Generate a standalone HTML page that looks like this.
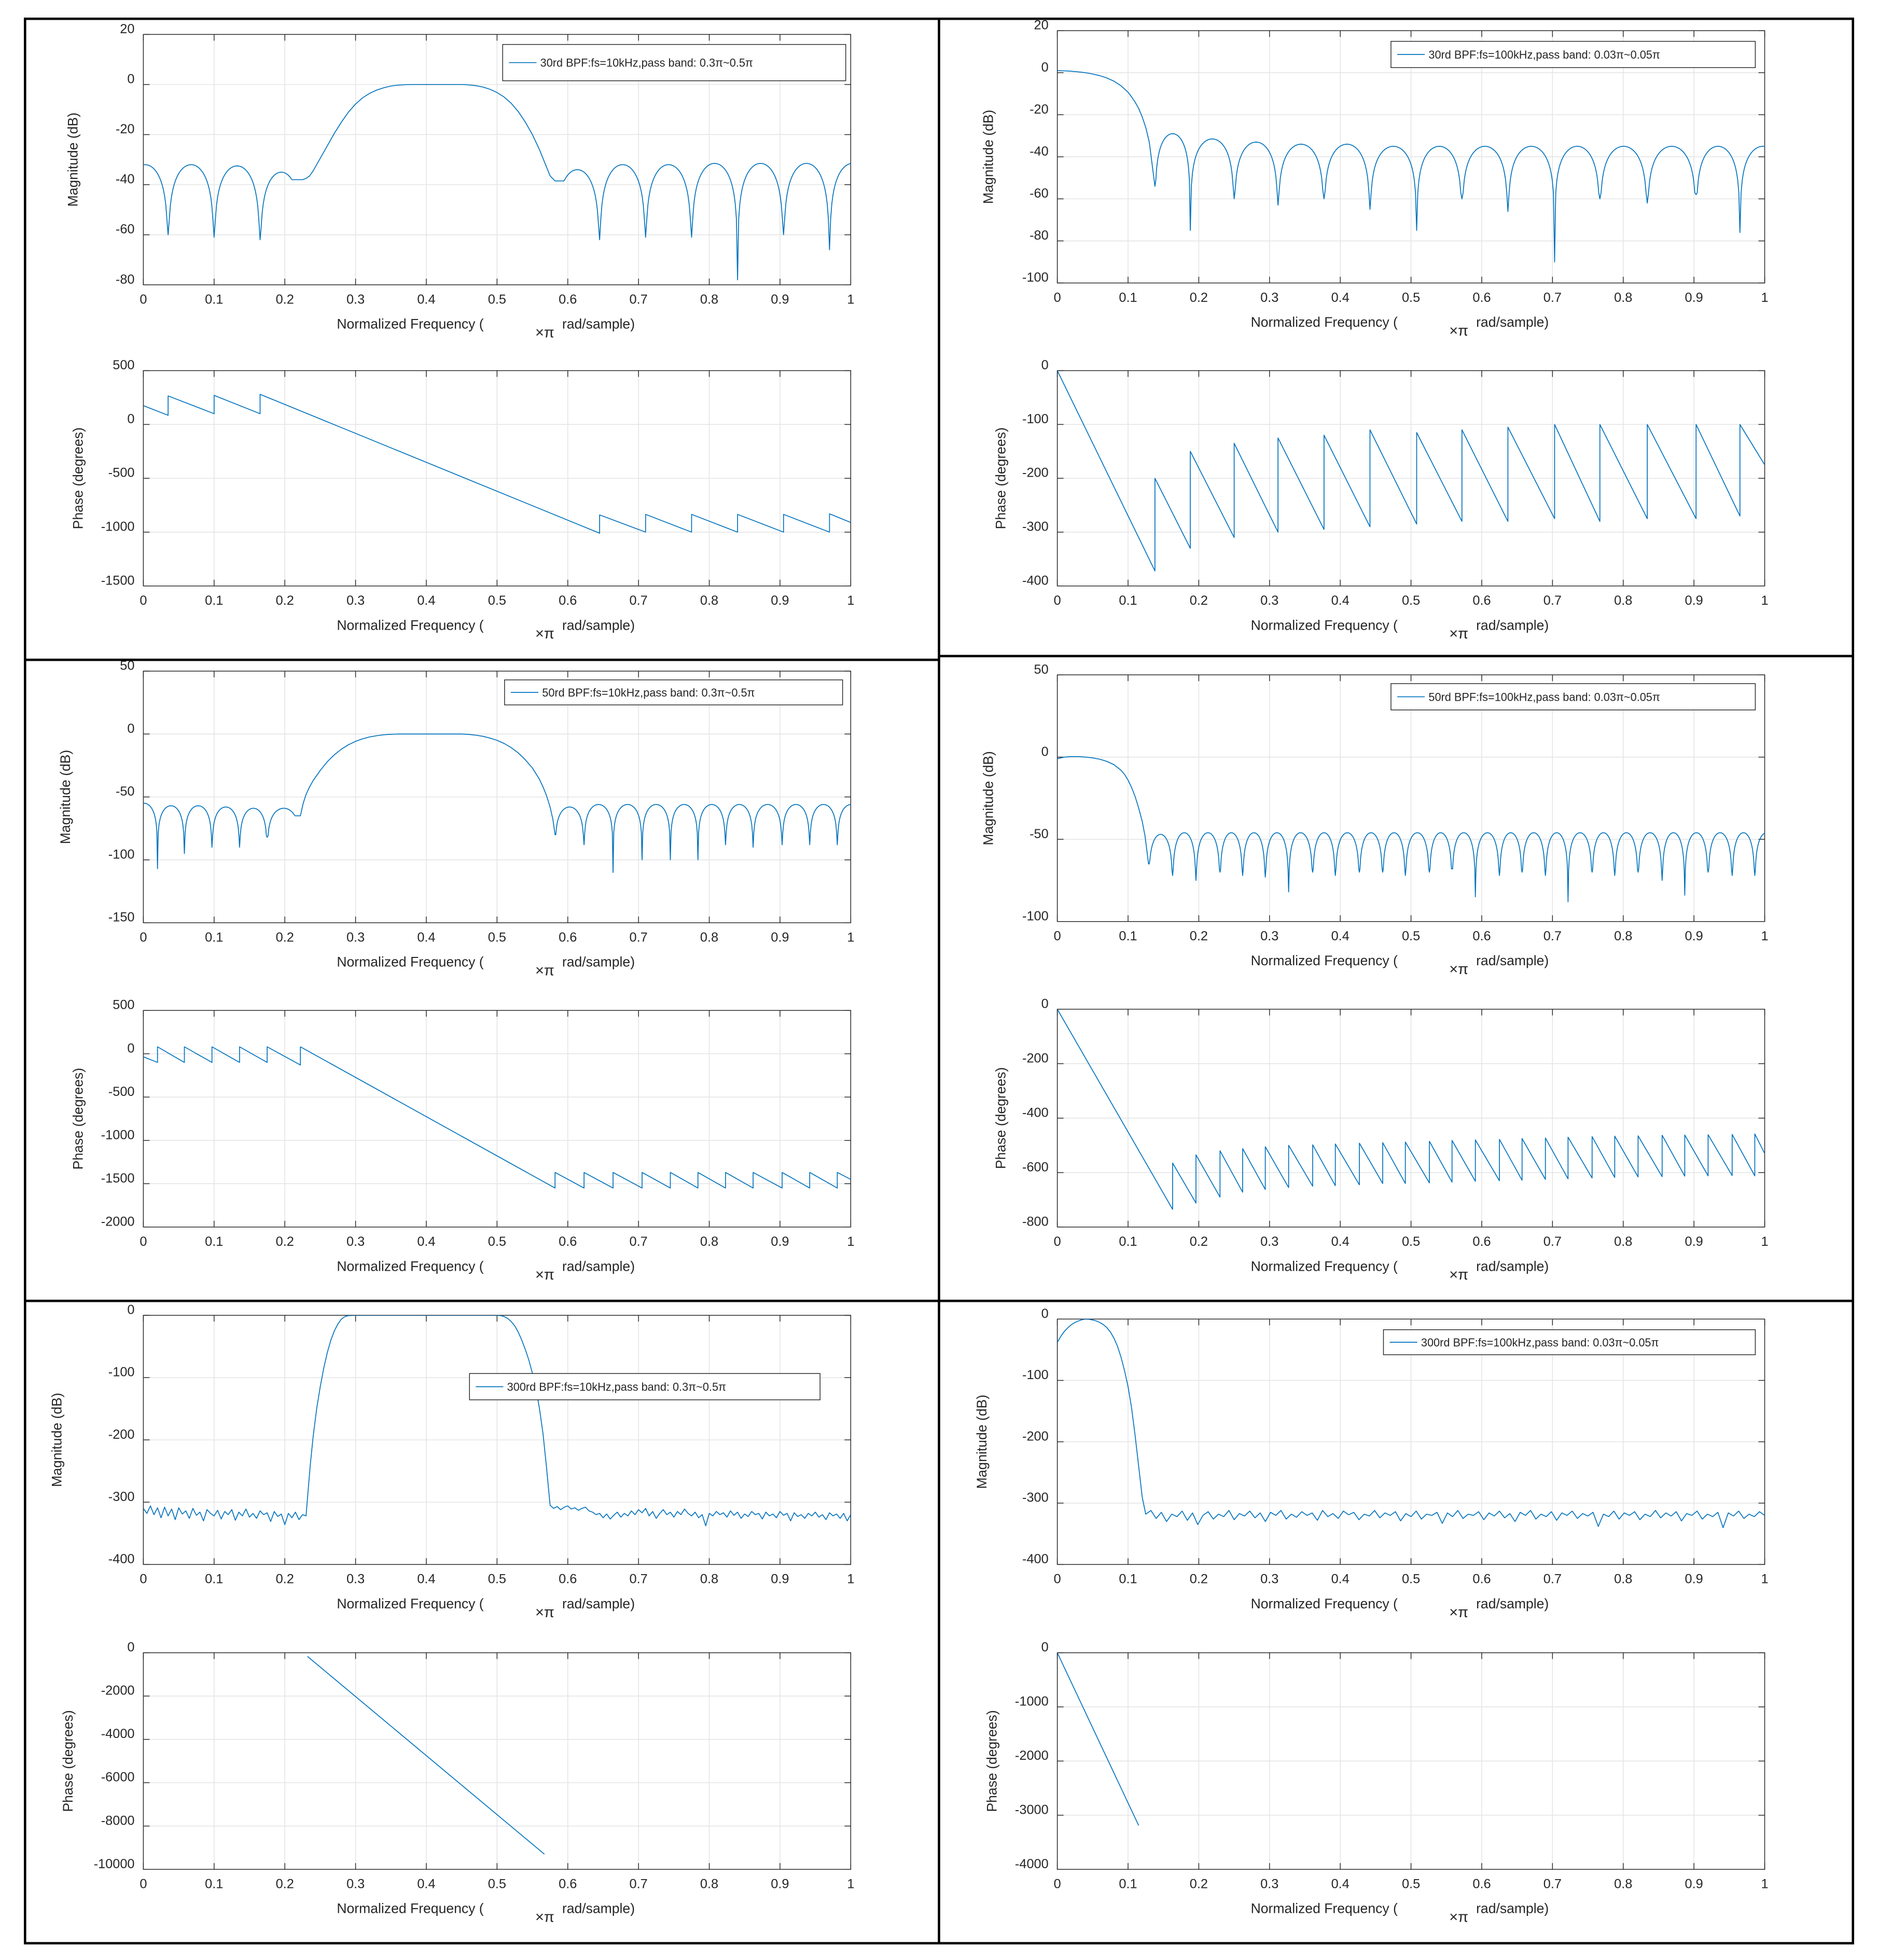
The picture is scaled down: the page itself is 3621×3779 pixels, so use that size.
<!DOCTYPE html>
<html><head><meta charset="utf-8"><title>FIR BPF responses</title>
<style>
html,body{margin:0;padding:0;background:#fff;}
svg{display:block;}
text{font-family:"Liberation Sans",sans-serif;fill:#262626;}
</style></head>
<body>
<svg id="fig" xmlns="http://www.w3.org/2000/svg" width="3621" height="3779" viewBox="0 0 1500 1565.4" preserveAspectRatio="none">
<rect x="0" y="0" width="1500" height="1565.4" fill="#fff"/>
<defs id="defs"></defs>
<g id="plots"></g>
<g stroke="#000" stroke-width="1.9" fill="none">
<rect x="20" y="15" width="1460" height="1537"/>
<line x1="750" y1="15" x2="750" y2="1552"/>
<line x1="20" y1="527" x2="750" y2="527"/>
<line x1="750" y1="524" x2="1480" y2="524"/>
<line x1="20" y1="1039" x2="1480" y2="1039"/>
</g>
</svg>
<script>
// ---------- tick label arrays ----------
const xTicks = [0,0.1,0.2,0.3,0.4,0.5,0.6,0.7,0.8,0.9,1];
const xTickLabels = ["0","0.1","0.2","0.3","0.4","0.5","0.6","0.7","0.8","0.9","1"];
const p1MagTicks = [20,0,-20,-40,-60,-80];
const p1PhTicks = [500,0,-500,-1000,-1500];
const p2MagTicks = [20,0,-20,-40,-60,-80,-100];
const p2PhTicks = [0,-100,-200,-300,-400];
const p3MagTicks = [50,0,-50,-100,-150];
const p3PhTicks = [500,0,-500,-1000,-1500,-2000];
const p4MagTicks = [50,0,-50,-100];
const p4PhTicks = [0,-200,-400,-600,-800];
const p5MagTicks = [0,-100,-200,-300,-400];
const p5PhTicks = [0,-2000,-4000,-6000,-8000,-10000];
const p6MagTicks = [0,-100,-200,-300,-400];
const p6PhTicks = [0,-1000,-2000,-3000,-4000];

// ---------- P1: 30rd, fs=10kHz ----------
const p1LobeNullsL = [-0.03,0.035,0.1,0.165,0.225];
const p1LobeDepthsL = [-40,-60,-61,-62,-38];
const p1LobePeaksL = [-32,-32,-32.5,-35];
const p1TransF = [0.23,0.235,0.24,0.25,0.26,0.27,0.28,0.29,0.3,0.31,0.32,0.33,0.34,0.35,0.36,0.37,0.38,0.45,0.46,0.47,0.48,0.49,0.5,0.51,0.52,0.53,0.54,0.55,0.56,0.565,0.57,0.575];
const p1TransV = [-37.5,-36.5,-34.5,-29.5,-24.5,-19.5,-15,-11,-7.8,-5.3,-3.5,-2.2,-1.3,-0.6,-0.25,-0.08,0,0,-0.15,-0.45,-1,-1.9,-3.2,-5,-7.5,-10.8,-15,-20,-26,-29.5,-33,-36.5];
const p1LobeNullsR = [0.582,0.645,0.71,0.775,0.84,0.905,0.97,1.035];
const p1LobeDepthsR = [-38.5,-62,-61,-61,-78,-60,-66,-60];
const p1LobePeaksR = [-34,-32,-32,-31.5,-31.5,-31.5,-31.5];
const p1PhStartF = 0, p1PhStartV = 175;
const p1PhJumpF = [0.035,0.1,0.165,0.645,0.71,0.775,0.84,0.905,0.97];
const p1PhBottom = [85,100,100,-1010,-1000,-1000,-1000,-1000,-1000];
const p1PhTop = [265,270,280,-840,-835,-835,-835,-835,-830];
const p1PhEndF = 1, p1PhEndV = -910;

// ---------- P2: 30rd, fs=100kHz ----------
const p2TransF = [0,0.01,0.02,0.03,0.04,0.05,0.06,0.07,0.08,0.09,0.1,0.105,0.11,0.115,0.12,0.125,0.13];
const p2TransV = [1,0.9,0.7,0.4,0,-0.6,-1.4,-2.5,-4,-6.2,-9.3,-11.5,-14,-17,-21,-26,-33];
const p2LobeNulls = [0.138,0.188,0.25,0.312,0.377,0.442,0.508,0.572,0.637,0.703,0.767,0.834,0.903,0.965,1.03];
const p2LobeDepths = [-54,-75,-60,-63,-60,-65,-75,-60,-66,-90,-60,-62,-58,-76,-60];
const p2LobePeaks = [-29,-31.5,-33,-34,-34,-35,-35,-35,-35,-35,-35,-35,-35,-35];
const p2PhStartF = 0, p2PhStartV = 0;
const p2PhJumpF = [0.138,0.188,0.25,0.312,0.377,0.442,0.508,0.572,0.637,0.703,0.767,0.834,0.903,0.965];
const p2PhBottom = [-372,-330,-310,-300,-295,-290,-285,-280,-280,-275,-280,-275,-275,-270];
const p2PhTop = [-200,-150,-135,-125,-120,-110,-115,-110,-105,-100,-100,-100,-100,-100];
const p2PhEndF = 1, p2PhEndV = -175;

// ---------- P3: 50rd, fs=10kHz ----------
const p3LobeNullsL = [-0.018,0.02,0.058,0.097,0.136,0.175,0.222];
const p3LobeDepthsL = [-70,-107,-95,-90,-90,-82,-65];
const p3LobePeaksL = [-55,-57,-57,-58,-59,-59];
const p3TransF = [0.226,0.23,0.235,0.24,0.25,0.26,0.27,0.28,0.29,0.3,0.31,0.32,0.33,0.34,0.35,0.36,0.45,0.46,0.47,0.48,0.49,0.5,0.51,0.52,0.53,0.54,0.55,0.56,0.565,0.57,0.575,0.579];
const p3TransV = [-55,-48,-42,-37,-29,-22,-16.5,-12,-8.5,-5.8,-3.8,-2.3,-1.3,-0.6,-0.2,0,0,-0.3,-0.9,-1.8,-3.2,-5,-7.5,-10.8,-15,-20.5,-27,-36,-42,-49,-58,-68];
const p3LobeNullsR = [0.582,0.623,0.664,0.705,0.745,0.784,0.823,0.862,0.903,0.942,0.981,1.02];
const p3LobeDepthsR = [-80,-88,-110,-100,-100,-100,-88,-90,-88,-88,-88,-88];
const p3LobePeaksR = [-58,-56,-56,-56,-56,-56,-56,-56,-56,-56,-56];
const p3PhStartF = 0, p3PhStartV = -35;
const p3PhJumpF = [0.02,0.058,0.097,0.136,0.175,0.222,0.582,0.623,0.664,0.705,0.745,0.784,0.823,0.862,0.903,0.942,0.981];
const p3PhBottom = [-100,-100,-100,-100,-100,-130,-1550,-1550,-1550,-1550,-1550,-1550,-1550,-1550,-1550,-1550,-1550];
const p3PhTop = [80,80,80,80,80,80,-1370,-1370,-1370,-1370,-1370,-1370,-1370,-1370,-1370,-1370,-1370];
const p3PhEndF = 1, p3PhEndV = -1450;

// ---------- P4: 50rd, fs=100kHz ----------
const p4TransF = [0,0.005,0.01,0.02,0.03,0.04,0.05,0.06,0.07,0.08,0.09,0.095,0.1,0.105,0.11,0.115,0.12,0.124];
const p4TransV = [-1,-0.5,0,0.3,0.3,0,-0.5,-1.3,-2.6,-4.6,-8,-10.5,-14,-18.5,-24,-31,-39,-48];
const p4LobeNulls = [0.129,0.163,0.196,0.23,0.262,0.294,0.327,0.361,0.393,0.427,0.46,0.492,0.526,0.558,0.591,0.625,0.657,0.69,0.722,0.756,0.788,0.821,0.855,0.887,0.92,0.954,0.986,1.019];
const p4LobeDepths = [-65,-72,-75,-70,-72,-73,-82,-70,-72,-70,-70,-72,-70,-68,-85,-72,-70,-72,-88,-70,-72,-70,-75,-84,-70,-72,-72,-70];
const p4LobePeaks = [-47,-46,-46,-46,-46,-46,-46,-46,-46,-46,-46,-46,-46,-46,-46,-46,-46,-46,-46,-46,-46,-46,-46,-46,-46,-46,-46];
const p4PhStartF = 0, p4PhStartV = 0;
const p4PhJumpF = [0.163,0.196,0.23,0.262,0.294,0.327,0.361,0.393,0.427,0.46,0.492,0.526,0.558,0.591,0.625,0.657,0.69,0.722,0.756,0.788,0.821,0.855,0.887,0.92,0.954,0.986];
const p4PhBottom = [-735,-712,-690,-672,-662,-655,-650,-648,-645,-640,-640,-638,-635,-632,-630,-628,-625,-623,-620,-618,-616,-615,-613,-612,-611,-612];
const p4PhTop = [-565,-535,-520,-512,-505,-500,-498,-495,-492,-490,-488,-485,-482,-480,-478,-475,-473,-470,-468,-466,-465,-463,-462,-461,-460,-458];
const p4PhEndF = 1, p4PhEndV = -530;

// ---------- P5: 300rd, fs=10kHz ----------
const p5NoiseLStart = 0, p5NoiseLEnd = 0.23;
const p5NoiseL = [-310,-318,-306,-320,-309,-325,-308,-322,-311,-328,-309,-319,-314,-326,-310,-321,-316,-330,-312,-318,-322,-313,-327,-315,-320,-312,-329,-316,-322,-311,-324,-318,-326,-314,-320,-317,-331,-315,-323,-319,-336,-318,-325,-316,-328,-320,-322];
const p5TransF = [0.233,0.236,0.24,0.245,0.25,0.255,0.26,0.265,0.27,0.275,0.28,0.285,0.29,0.3,0.5,0.505,0.51,0.515,0.52,0.525,0.53,0.535,0.54,0.545,0.55,0.555,0.56,0.565,0.57];
const p5TransV = [-280,-240,-195,-150,-115,-85,-60,-40,-25,-14,-6,-2,-0.5,0,0,-0.5,-2,-5,-10,-17,-27,-40,-55,-72,-93,-118,-150,-190,-245];
const p5NoiseRStart = 0.575, p5NoiseREnd = 1;
const p5NoiseR = [-305,-310,-307,-312,-308,-306,-311,-309,-313,-310,-308,-314,-316,-320,-318,-325,-319,-327,-321,-316,-324,-318,-322,-314,-320,-312,-317,-310,-322,-315,-326,-318,-312,-320,-316,-324,-315,-320,-311,-318,-322,-316,-325,-320,-338,-318,-322,-315,-320,-317,-324,-314,-321,-316,-326,-319,-323,-315,-320,-318,-327,-316,-322,-319,-325,-315,-321,-318,-330,-317,-323,-320,-326,-318,-322,-316,-324,-320,-328,-317,-322,-319,-326,-318,-330,-320];
const p5PhF = [0.232,0.567];
const p5PhV = [-170,-9300];

// ---------- P6: 300rd, fs=100kHz ----------
const p6TransF = [0,0.005,0.01,0.015,0.02,0.025,0.03,0.035,0.04,0.045,0.05,0.055,0.06,0.065,0.07,0.075,0.08,0.085,0.09,0.095,0.1,0.105,0.11,0.115,0.12];
const p6TransV = [-38,-28,-20,-14,-9,-5.5,-3,-1,0,-0.5,-1.5,-3,-5.5,-9,-14,-21,-31,-44,-62,-84,-110,-145,-190,-240,-290];
const p6NoiseStart = 0.125, p6NoiseEnd = 1;
const p6Noise = [-318,-312,-325,-315,-330,-318,-322,-313,-328,-316,-335,-320,-314,-326,-318,-322,-312,-327,-317,-321,-313,-324,-316,-330,-315,-320,-312,-326,-318,-323,-314,-320,-316,-328,-312,-322,-317,-325,-313,-319,-315,-327,-318,-321,-312,-324,-316,-320,-314,-329,-317,-322,-313,-326,-318,-320,-315,-333,-316,-322,-312,-325,-318,-320,-314,-327,-316,-321,-313,-324,-317,-330,-315,-320,-312,-326,-318,-322,-314,-328,-316,-320,-313,-325,-317,-321,-315,-338,-318,-322,-313,-326,-316,-320,-314,-327,-318,-322,-312,-324,-316,-321,-314,-329,-317,-320,-313,-326,-318,-322,-315,-340,-316,-321,-313,-325,-318,-322,-314,-320];
const p6PhF = [0,0.115];
const p6PhV = [0,-3190];

// ---------- layout ----------
const SVGNS = "http://www.w3.org/2000/svg";
const plots = document.getElementById('plots');
const defs = document.getElementById('defs');
const LEFT = {x0:114.5, x1:679.5};
const RIGHT = {x0:844.5, x1:1409.5};

function mk(tag, attrs, parent){
  const e = document.createElementNS(SVGNS, tag);
  for (const k in attrs) e.setAttribute(k, attrs[k]);
  (parent||plots).appendChild(e);
  return e;
}

function lobes(nulls, depths, peaks){
  const pts = [];
  for (let i = 0; i < peaks.length; i++){
    const a = nulls[i], b = nulls[i+1], p = peaks[i];
    const last = i === peaks.length - 1;
    const N = 40;
    for (let k = 0; k <= (last ? N : N - 1); k++){
      const t = k / N;
      const s = Math.sin(Math.PI * t);
      let v = s > 1e-9 ? p + 20 * Math.log10(s) : -1e9;
      const floor = t < 0.5 ? depths[i] : depths[i+1];
      if (v < floor) v = floor;
      pts.push([a + (b - a) * t, v]);
    }
  }
  return pts;
}
function explicit(fs, vs){ return fs.map((f, i) => [f, vs[i]]); }
function noise(start, end, vals){ return vals.map((v, i) => [start + (end - start) * i / (vals.length - 1), v]); }
function saw(sf, sv, jf, bot, top, ef, ev){
  const pts = [[sf, sv]];
  for (let i = 0; i < jf.length; i++){ pts.push([jf[i], bot[i]]); pts.push([jf[i], top[i]]); }
  pts.push([ef, ev]);
  return pts;
}

let clipId = 0;
function axes(cfg){
  const {x0, x1, y0, y1, ymin, ymax, ticks, ylabel, ylx, name} = cfg;
  const sx = f => x0 + f * (x1 - x0);
  const sy = v => y0 + (ymax - v) / (ymax - ymin) * (y1 - y0);
  const g = mk('g', {});
  
  
  mk('rect', {x:x0, y:y0, width:x1-x0, height:y1-y0, fill:'#fff'}, g);
  xTicks.forEach(t => {
    const l = mk('line', {x1:sx(t), x2:sx(t), y1:y0, y2:y1, stroke:'#e3e3e3', 'stroke-width':0.6}, g);
    
    
  });
  ticks.forEach(t => {
    const l = mk('line', {x1:x0, x2:x1, y1:sy(t), y2:sy(t), stroke:'#e3e3e3', 'stroke-width':0.6}, g);
    
    
  });
  const box = mk('rect', {x:x0, y:y0, width:x1-x0, height:y1-y0, fill:'none', stroke:'#262626', 'stroke-width':0.6}, g);
  
  
  xTicks.forEach(t => {
    mk('line', {x1:sx(t), x2:sx(t), y1:y1, y2:y1-5, stroke:'#262626', 'stroke-width':0.6}, g);
    mk('line', {x1:sx(t), x2:sx(t), y1:y0, y2:y0+5, stroke:'#262626', 'stroke-width':0.6}, g);
  });
  ticks.forEach(t => {
    mk('line', {x1:x0, x2:x0+5, y1:sy(t), y2:sy(t), stroke:'#262626', 'stroke-width':0.6}, g);
    mk('line', {x1:x1, x2:x1-5, y1:sy(t), y2:sy(t), stroke:'#262626', 'stroke-width':0.6}, g);
  });
  xTicks.forEach((t, i) => {
    const tx = mk('text', {x:sx(t), y:y1+15, 'font-size':10.5, 'text-anchor':'middle'}, g);
    tx.textContent = xTickLabels[i];
    
    
  });
  ticks.forEach(t => {
    const tx = mk('text', {x:x0-7, y:sy(t)-1, 'font-size':10.5, 'text-anchor':'end'}, g);
    tx.textContent = String(t);
    
    
  });
  const xl = mk('text', {x:x0+154.5, y:y1+35, 'font-size':11}, g);
  xl.textContent = 'Normalized Frequency  (';
  
  
  const xp = mk('text', {x:x0+313, y:y1+42, 'font-size':12}, g);
  xp.textContent = '×π';
  
  
  const xr = mk('text', {x:x0+334.5, y:y1+35, 'font-size':11}, g);
  xr.textContent = 'rad/sample)';
  
  
  const yc = (y0 + y1) / 2;
  const yl = mk('text', {x:ylx, y:yc, 'font-size':11, 'text-anchor':'middle', transform:`rotate(-90 ${ylx} ${yc})`}, g);
  yl.textContent = ylabel;
  
  
  const id = 'clip' + (clipId++);
  const cp = mk('clipPath', {id:id}, defs);
  mk('rect', {x:x0, y:y0, width:x1-x0, height:y1-y0}, cp);
  return {g, sx, sy, clip:id};
}

function series(ax, pts, name){
  const d = pts.map((p, i) => (i ? 'L' : 'M') + ax.sx(p[0]).toFixed(2) + ' ' + ax.sy(Math.max(p[1], -1e6)).toFixed(2)).join(' ');
  const path = mk('path', {d:d, fill:'none', stroke:'#0072BD', 'stroke-width':0.7, 'stroke-linejoin':'round', 'clip-path':`url(#${ax.clip})`}, ax.g);
  
  
}

function legend(x, y, w, h, label){
  const g = mk('g', {});
  
  
  mk('rect', {x:x, y:y, width:w, height:h, fill:'#fff', stroke:'#262626', 'stroke-width':0.6}, g);
  mk('line', {x1:x+5, x2:x+27, y1:y+h/2, y2:y+h/2, stroke:'#0072BD', 'stroke-width':0.7}, g);
  const t = mk('text', {x:x+30, y:y+h/2+3.3, 'font-size':9}, g);
  t.textContent = label;
  
  
}

// ---------- panel 1 ----------
let ax = axes({name:'p1-magnitude-axes', x0:LEFT.x0, x1:LEFT.x1, y0:27.5, y1:227.5, ymin:-80, ymax:20, ticks:p1MagTicks, ylabel:'Magnitude (dB)', ylx:62});
series(ax, lobes(p1LobeNullsL, p1LobeDepthsL, p1LobePeaksL).concat(explicit(p1TransF, p1TransV), lobes(p1LobeNullsR, p1LobeDepthsR, p1LobePeaksR)), 'p1-magnitude-line');
legend(401.5, 35.5, 274, 29, '30rd BPF:fs=10kHz,pass band: 0.3π~0.5π');
ax = axes({name:'p1-phase-axes', x0:LEFT.x0, x1:LEFT.x1, y0:296, y1:468, ymin:-1500, ymax:500, ticks:p1PhTicks, ylabel:'Phase (degrees)', ylx:66});
series(ax, saw(p1PhStartF, p1PhStartV, p1PhJumpF, p1PhBottom, p1PhTop, p1PhEndF, p1PhEndV), 'p1-phase-line');

// ---------- panel 2 ----------
ax = axes({name:'p2-magnitude-axes', x0:RIGHT.x0, x1:RIGHT.x1, y0:24.5, y1:226, ymin:-100, ymax:20, ticks:p2MagTicks, ylabel:'Magnitude (dB)', ylx:793});
series(ax, explicit(p2TransF, p2TransV).concat(lobes(p2LobeNulls, p2LobeDepths, p2LobePeaks)), 'p2-magnitude-line');
legend(1111, 33, 291, 21, '30rd BPF:fs=100kHz,pass band: 0.03π~0.05π');
ax = axes({name:'p2-phase-axes', x0:RIGHT.x0, x1:RIGHT.x1, y0:296, y1:468, ymin:-400, ymax:0, ticks:p2PhTicks, ylabel:'Phase (degrees)', ylx:803});
series(ax, saw(p2PhStartF, p2PhStartV, p2PhJumpF, p2PhBottom, p2PhTop, p2PhEndF, p2PhEndV), 'p2-phase-line');

// ---------- panel 3 ----------
ax = axes({name:'p3-magnitude-axes', x0:LEFT.x0, x1:LEFT.x1, y0:536, y1:737, ymin:-150, ymax:50, ticks:p3MagTicks, ylabel:'Magnitude (dB)', ylx:56});
series(ax, lobes(p3LobeNullsL, p3LobeDepthsL, p3LobePeaksL).concat(explicit(p3TransF, p3TransV), lobes(p3LobeNullsR, p3LobeDepthsR, p3LobePeaksR)), 'p3-magnitude-line');
legend(403, 543, 270, 20, '50rd BPF:fs=10kHz,pass band: 0.3π~0.5π');
ax = axes({name:'p3-phase-axes', x0:LEFT.x0, x1:LEFT.x1, y0:807, y1:980, ymin:-2000, ymax:500, ticks:p3PhTicks, ylabel:'Phase (degrees)', ylx:66});
series(ax, saw(p3PhStartF, p3PhStartV, p3PhJumpF, p3PhBottom, p3PhTop, p3PhEndF, p3PhEndV), 'p3-phase-line');

// ---------- panel 4 ----------
ax = axes({name:'p4-magnitude-axes', x0:RIGHT.x0, x1:RIGHT.x1, y0:539, y1:736, ymin:-100, ymax:50, ticks:p4MagTicks, ylabel:'Magnitude (dB)', ylx:793});
series(ax, explicit(p4TransF, p4TransV).concat(lobes(p4LobeNulls, p4LobeDepths, p4LobePeaks)), 'p4-magnitude-line');
legend(1111, 546, 291, 21, '50rd BPF:fs=100kHz,pass band: 0.03π~0.05π');
ax = axes({name:'p4-phase-axes', x0:RIGHT.x0, x1:RIGHT.x1, y0:806, y1:980, ymin:-800, ymax:0, ticks:p4PhTicks, ylabel:'Phase (degrees)', ylx:803});
series(ax, saw(p4PhStartF, p4PhStartV, p4PhJumpF, p4PhBottom, p4PhTop, p4PhEndF, p4PhEndV), 'p4-phase-line');

// ---------- panel 5 ----------
ax = axes({name:'p5-magnitude-axes', x0:LEFT.x0, x1:LEFT.x1, y0:1050.5, y1:1249.5, ymin:-400, ymax:0, ticks:p5MagTicks, ylabel:'Magnitude (dB)', ylx:49});
series(ax, noise(p5NoiseLStart, p5NoiseLEnd, p5NoiseL).concat(explicit(p5TransF, p5TransV), noise(p5NoiseRStart, p5NoiseREnd, p5NoiseR)), 'p5-magnitude-line');
legend(375, 1097, 280, 21, '300rd BPF:fs=10kHz,pass band: 0.3π~0.5π');
ax = axes({name:'p5-phase-axes', x0:LEFT.x0, x1:LEFT.x1, y0:1320, y1:1493, ymin:-10000, ymax:0, ticks:p5PhTicks, ylabel:'Phase (degrees)', ylx:58});
series(ax, explicit(p5PhF, p5PhV), 'p5-phase-line');

// ---------- panel 6 ----------
ax = axes({name:'p6-magnitude-axes', x0:RIGHT.x0, x1:RIGHT.x1, y0:1053.5, y1:1249.5, ymin:-400, ymax:0, ticks:p6MagTicks, ylabel:'Magnitude (dB)', ylx:788});
series(ax, explicit(p6TransF, p6TransV).concat(noise(p6NoiseStart, p6NoiseEnd, p6Noise)), 'p6-magnitude-line');
legend(1105, 1062, 297, 20, '300rd BPF:fs=100kHz,pass band: 0.03π~0.05π');
ax = axes({name:'p6-phase-axes', x0:RIGHT.x0, x1:RIGHT.x1, y0:1320, y1:1493, ymin:-4000, ymax:0, ticks:p6PhTicks, ylabel:'Phase (degrees)', ylx:796});
series(ax, explicit(p6PhF, p6PhV), 'p6-phase-line');
</script>
</body></html>
